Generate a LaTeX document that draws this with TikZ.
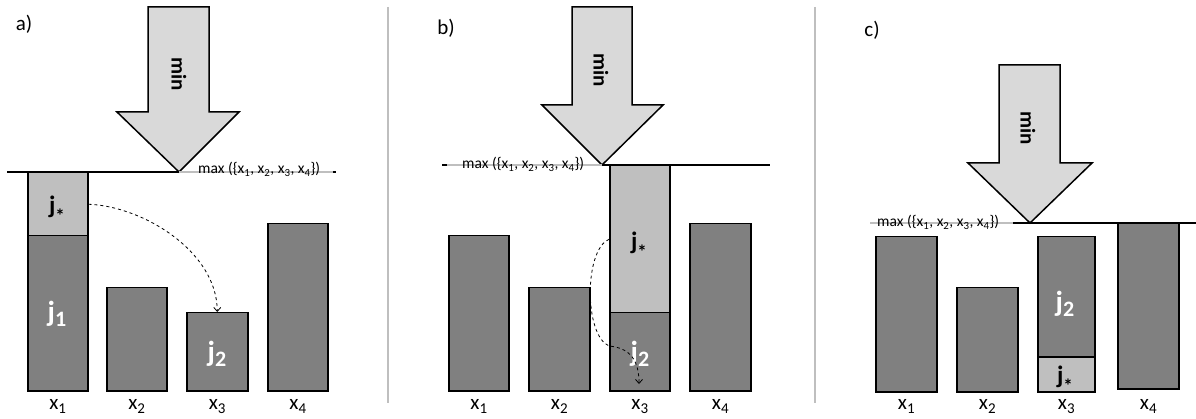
\documentclass[tikz,border=0pt]{standalone}
\usepackage{fontspec}
\setmainfont{Carlito}
\usetikzlibrary{arrows.meta,calc}
\definecolor{bardark}{HTML}{808080}
\definecolor{barlight}{HTML}{BFBFBF}
\definecolor{arrowfill}{HTML}{D9D9D9}
\definecolor{seplight}{HTML}{BFBFBF}
\newcommand\jn[1]{{\fontsize{29}{29}\selectfont\bfseries j\raisebox{-5pt}{\fontsize{22}{22}\selectfont #1}}}
\newcommand\jstar{{\fontsize{25}{25}\selectfont\bfseries j\raisebox{-9pt}{\fontsize{19}{19}\selectfont *}}}
\newcommand\sbs[1]{\raisebox{-0.22em}{\fontsize{0.72em}{0.72em}\selectfont #1}}
\newcommand\xs[1]{x\raisebox{-4pt}{\fontsize{15}{15}\selectfont #1}}
\newcommand\maxtext{max (\{x\textsubscript{1}, x\textsubscript{2}, x\textsubscript{3}, x\textsubscript{4}\})}
\begin{document}
\begin{tikzpicture}[x=1pt,y=-1pt,
  bar/.style={draw=black,line width=1.5pt,fill=bardark,rectangle,inner sep=0pt,anchor=north west},
  jbox/.style={bar,fill=barlight},
  bigarrow/.style={draw=black,line width=1.5pt,fill=arrowfill,line join=miter},
  minlab/.style={font=\fontsize{21}{21}\selectfont\bfseries,rotate=-90,inner sep=0pt},
  lvl/.style={draw=black,line width=1.5pt},
  maxline/.style={draw=seplight,line width=2pt},
  maxlab/.style={font=\fontsize{15.5}{15.5}\selectfont,anchor=base west,inner sep=0pt},
  xlab/.style={font=\fontsize{21}{21}\selectfont,anchor=base,inner sep=0pt},
  panlab/.style={font=\fontsize{21}{21}\selectfont,inner sep=0pt},
  wlab/.style={text=white,anchor=base,inner sep=0pt},
  blab/.style={text=black,anchor=base,inner sep=0pt},
  sepline/.style={draw=seplight,line width=1.2pt},
  move/.style={draw=black,line width=0.8pt,dashed,-{Straight Barb[length=4pt,width=7pt]}}
]
\useasboundingbox (0,0) rectangle (1196,419);
\coordinate (base) at (0,409);

% separators
\coordinate (s1t) at (388,7); \coordinate (s1b) at (388,403);
\coordinate (s2t) at (815,7); \coordinate (s2b) at (815,403);
\draw[sepline] (s1t) -- (s1b);
\draw[sepline] (s2t) -- (s2b);

% ================= panel a =================
\node[panlab] (pa) at (24,24) {a)};
\coordinate (atip) at (179,172);
\draw[bigarrow] (148,7) -- (209,7) -- (209,112) -- (239,112) -- (atip) -- (117,112) -- (148,112) -- cycle;
\node[minlab] (amin) at (179,74) {min};
\coordinate (aL) at (7,172); \coordinate (aR) at (333,172);
\draw[maxline] (atip) -- (aR);
\node[maxlab] (amax) at (198,174) {\maxtext};
\draw[line width=1.2pt] (aR) -- ++(3,0);
\node[bar,minimum width=60pt,minimum height=155pt] (a1) at (27,235) {};
\node[jbox,minimum width=60pt,minimum height=63pt] (a1s) at (27,172) {};
\node[bar,minimum width=60pt,minimum height=103pt] (a2) at (106,287) {};
\node[bar,minimum width=61pt,minimum height=78pt] (a3) at (186,312) {};
\node[bar,minimum width=60pt,minimum height=167pt] (a4) at (267,223) {};
\draw[lvl] (aL) -- (atip);
\node[blab] (ajs) at (57,214) {\jstar};
\node[wlab] (aj1) at (57,322) {\jn{1}};
\node[wlab] (aj2) at (217,362) {\jn{2}};
\draw[move] (a1s.east) .. controls +(55,2) and +(0,-60) .. (a3.north);
\node[xlab] (ax1) at (a1.south |- base) {\xs{1}};
\node[xlab] (ax2) at (a2.south |- base) {\xs{2}};
\node[xlab] (ax3) at (a3.south |- base) {\xs{3}};
\node[xlab] (ax4) at (a4.south |- base) {\xs{4}};

% ================= panel b =================
\node[panlab] (pb) at (446,28) {b)};
\coordinate (btip) at (602,165);
\draw[bigarrow] (572,7) -- (632,7) -- (632,105) -- (663,105) -- (btip) -- (542,105) -- (572,105) -- cycle;
\node[minlab] (bmin) at (601,70) {min};
\coordinate (bL) at (447,165); \coordinate (bR) at (770,165);
\draw[maxline] (bL) -- (btip);
\draw[line width=1.2pt] (bL) -- ++(-5,0);
\node[maxlab] (bmax) at (462,169) {\maxtext};
\node[bar,minimum width=60pt,minimum height=155pt] (b1) at (448,235) {};
\node[bar,minimum width=61pt,minimum height=103pt] (b2) at (528,287) {};
\node[bar,minimum width=60pt,minimum height=78pt] (b3) at (609,312) {};
\node[jbox,minimum width=60pt,minimum height=147pt] (b3s) at (609,165) {};
\node[bar,minimum width=61pt,minimum height=167pt] (b4) at (689,223) {};
\draw[lvl] (btip) -- (bR);
\node[blab] (bjs) at (639,250) {\jstar};
\node[wlab] (bj2) at (640,362) {\jn{2}};
\coordinate (bmid) at (609,346);
\coordinate (bend) at (639,384);
\draw[move] (b3s.west) .. controls (584,250) and (584,335) .. (bmid) .. controls (630,348) and (639,360) .. (bend);
\node[xlab] (bx1) at (b1.south |- base) {\xs{1}};
\node[xlab] (bx2) at (b2.south |- base) {\xs{2}};
\node[xlab] (bx3) at (b3.south |- base) {\xs{3}};
\node[xlab] (bx4) at (b4.south |- base) {\xs{4}};

% ================= panel c =================
\node[panlab] (pc) at (872,30) {c)};
\coordinate (ctip) at (1030,223);
\draw[bigarrow] (999,65) -- (1060,65) -- (1060,163) -- (1092,163) -- (ctip) -- (968,163) -- (999,163) -- cycle;
\node[minlab] (cmin) at (1028,128) {min};
\coordinate (cL) at (870,223); \coordinate (cM) at (1013,223); \coordinate (cR) at (1196,223);
\draw[maxline] (cL) -- (cM);
\node[maxlab] (cmax) at (877,227) {\maxtext};
\node[bar,minimum width=61pt,minimum height=155pt] (c1) at (875,236) {};
\node[bar,minimum width=61pt,minimum height=104pt] (c2) at (956,287) {};
\node[bar,minimum width=57pt,minimum height=120pt] (c3) at (1037,236) {};
\node[jbox,minimum width=57pt,minimum height=35pt] (c3s) at (1037,356) {};
\node[bar,minimum width=61pt,minimum height=165pt] (c4) at (1117,223) {};
\draw[lvl] (cM) -- (cR);
\node[wlab] (cj2) at (1065,312) {\jn{2}};
\node[blab] (cjs) at (1065,383) {\jstar};
\node[xlab] (cx1) at (c1.south |- base) {\xs{1}};
\node[xlab] (cx2) at (c2.south |- base) {\xs{2}};
\node[xlab] (cx3) at (c3.south |- base) {\xs{3}};
\node[xlab] (cx4) at (c4.south |- base) {\xs{4}};
\end{tikzpicture}
\end{document}
